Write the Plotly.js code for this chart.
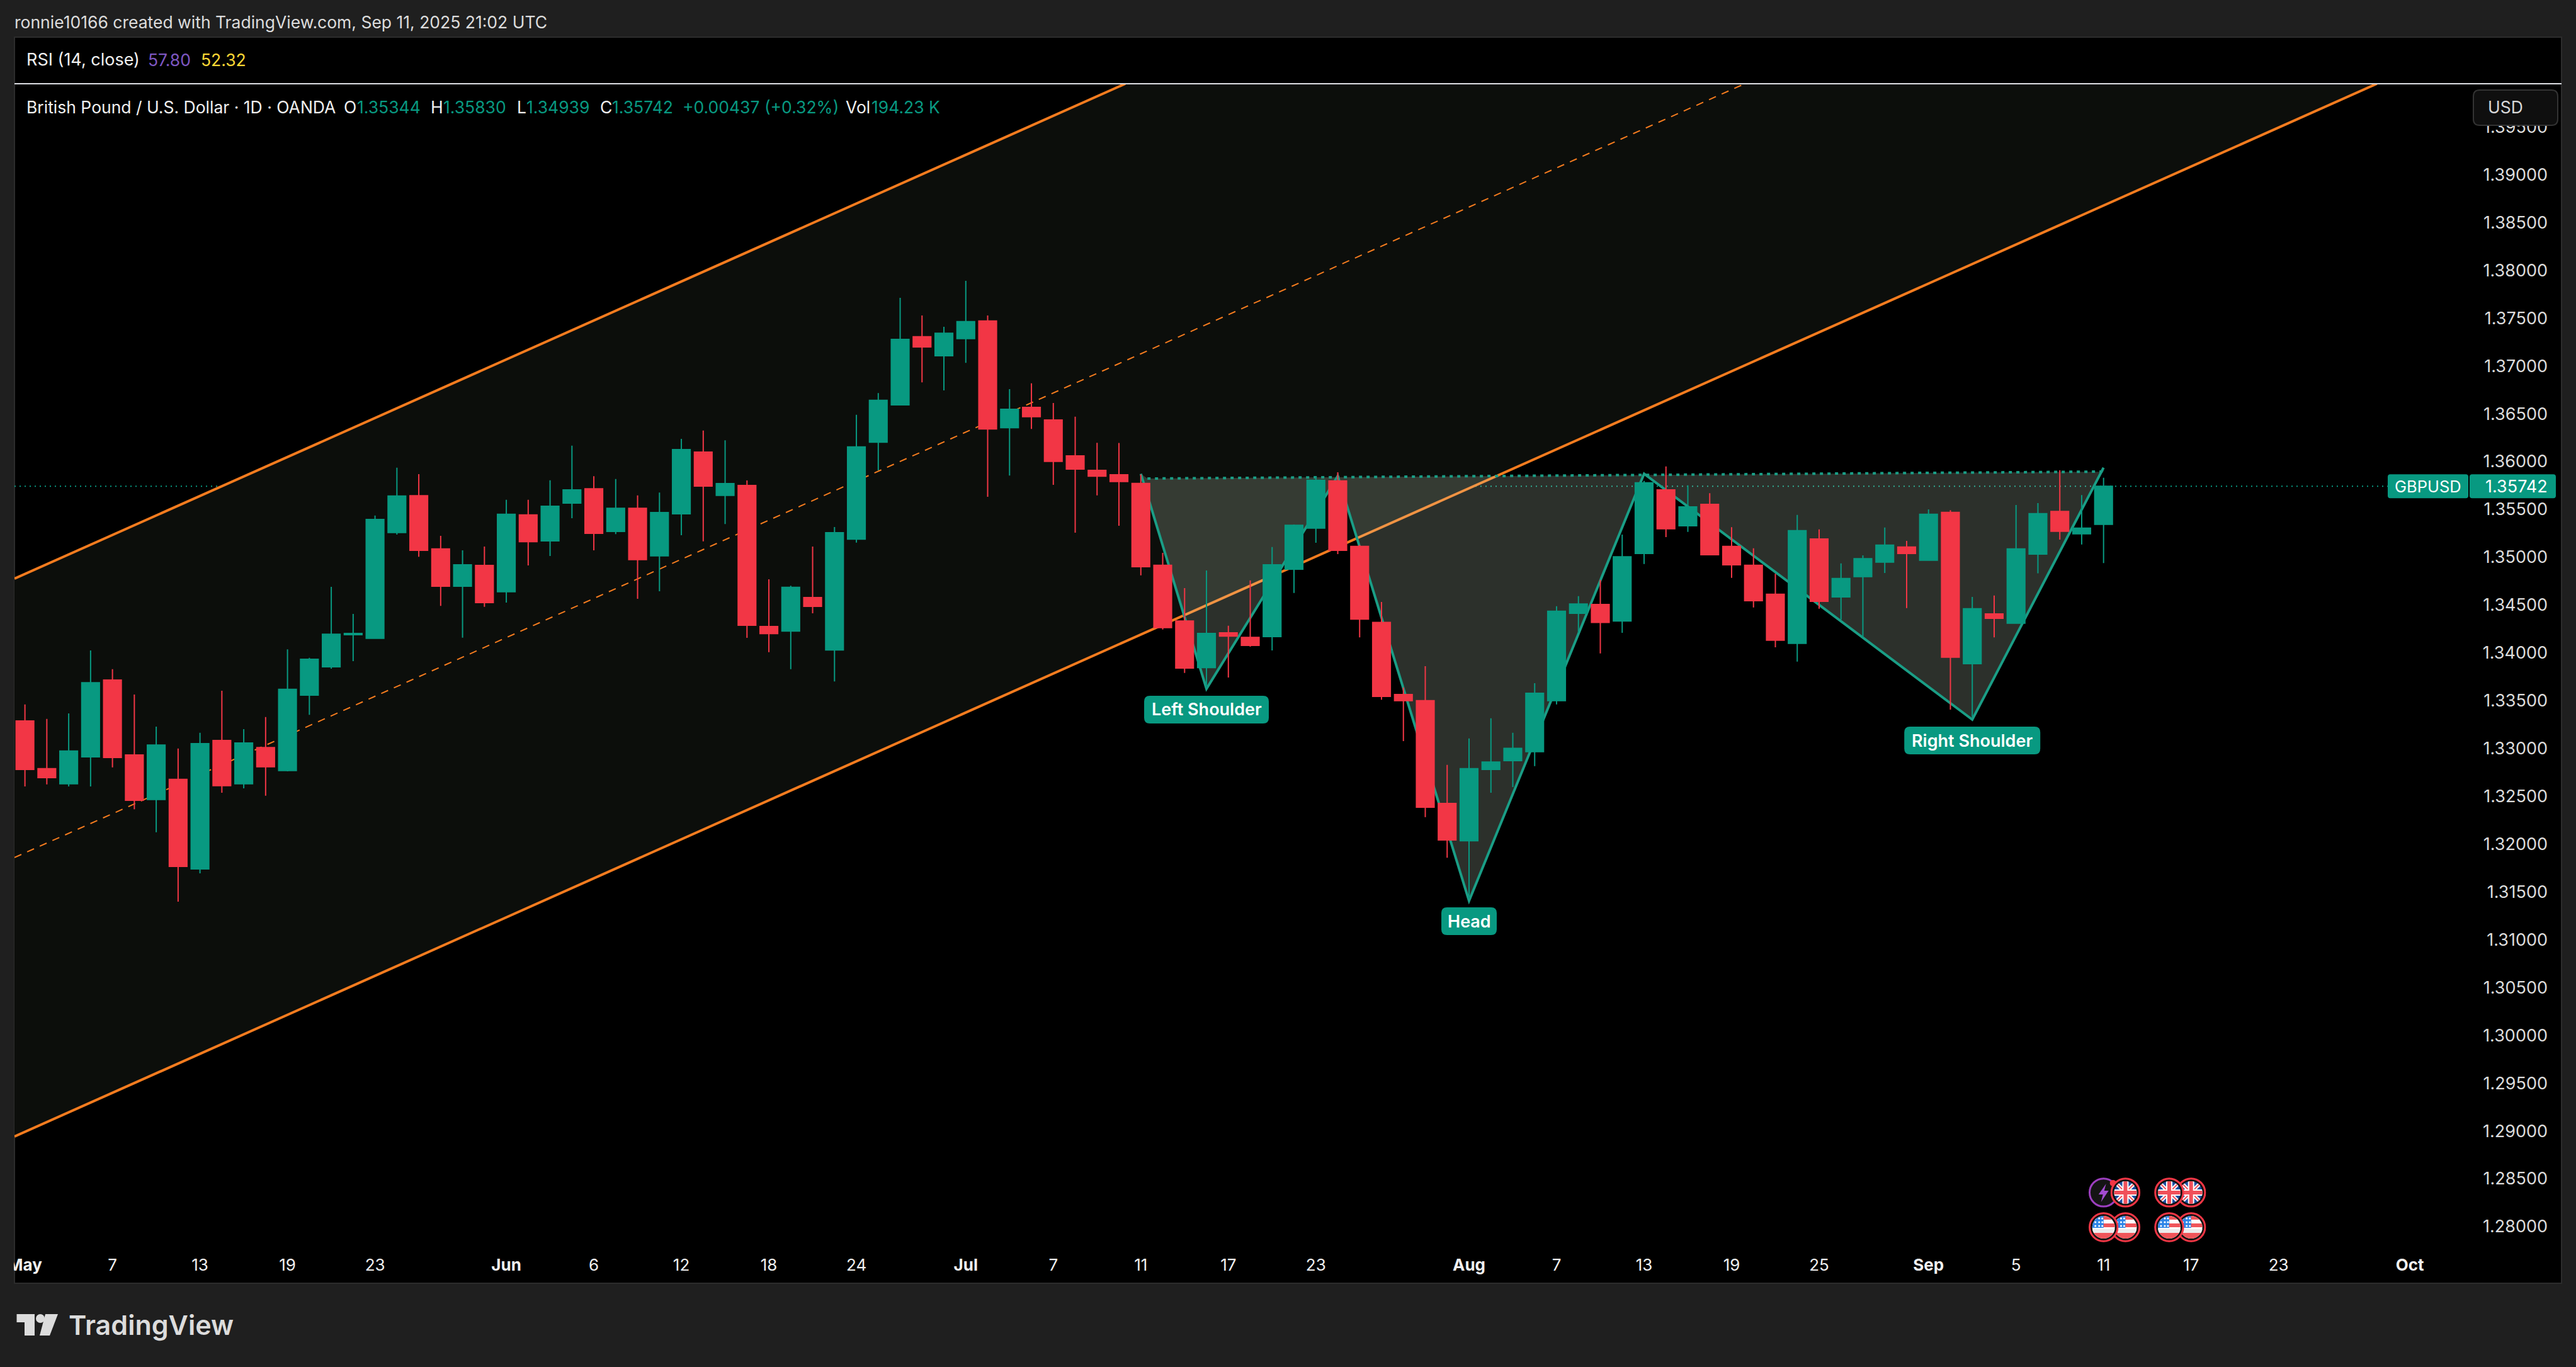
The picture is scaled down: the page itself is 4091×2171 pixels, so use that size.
<!DOCTYPE html>
<html>
<head>
<meta charset="utf-8">
<script src="https://cdn.plot.ly/plotly-3.0.1.min.js"></script>
<style>html,body{margin:0;padding:0;background:#1f1f1f}#chart{width:4091px;height:2171px}</style>
</head>
<body>
<div id="chart"></div>
<script>
// ---------- OHLC, one value per trading day from 1 May to 11 Sep 2025 ----------
const opens = [
1.33288,1.32788,1.32630,1.32912,1.33715,1.32932,1.32465,1.32677,1.31740,1.33083,
1.32630,1.33009,1.32768,1.33557,1.33853,1.34189,1.34152,1.35257,1.35643,1.35086,
1.34696,1.34914,1.34639,1.35442,1.35170,1.35565,1.35716,1.35269,1.35511,1.35014,
1.35454,1.36099,1.35646,1.35750,1.34275,1.34228,1.34577,1.34030,1.35189,1.36203,
1.36593,1.37305,1.37107,1.37285,1.37470,1.36354,1.36566,1.36435,1.36059,1.35908,
1.35862,1.35771,1.34915,1.34333,1.33846,1.34209,1.34162,1.34169,1.34874,1.35304,
1.35798,1.35113,1.34317,1.33564,1.33500,1.32425,1.32035,1.32781,1.32872,1.32966,
1.33500,1.34414,1.34505,1.34333,1.35039,1.35704,1.35328,1.35553,1.35113,1.34915,
1.34612,1.34098,1.35190,1.34585,1.34797,1.34948,1.35106,1.34968,1.35469,1.33887,
1.34407,1.34310,1.35032,1.35479,1.35244,1.35344];
const highs = [
1.33460,1.33308,1.33366,1.34024,1.33829,1.33564,1.33228,1.32999,1.33164,1.33604,
1.33201,1.33329,1.34037,1.33947,1.34689,1.34407,1.35435,1.35936,1.35868,1.35223,
1.35072,1.35112,1.35600,1.35600,1.35805,1.36166,1.35847,1.35817,1.35646,1.35676,
1.36237,1.36324,1.36223,1.35803,1.34769,1.34701,1.35111,1.35316,1.36489,1.36717,
1.37712,1.37527,1.37409,1.37890,1.37527,1.36758,1.36818,1.36613,1.36469,1.36196,
1.36194,1.35865,1.35046,1.34676,1.34861,1.34283,1.34757,1.35106,1.35341,1.35842,
1.35889,1.35130,1.34532,1.33638,1.33860,1.32828,1.33104,1.33315,1.33164,1.33682,
1.34488,1.34592,1.34763,1.35237,1.35798,1.35949,1.35751,1.35670,1.35314,1.35093,
1.34827,1.35442,1.35291,1.34935,1.35019,1.35311,1.35170,1.35499,1.35492,1.34585,
1.34599,1.35546,1.35566,1.35909,1.35650,1.35830];
const lows = [
1.32603,1.32623,1.32603,1.32603,1.32801,1.32364,1.32123,1.31397,1.31693,1.32536,
1.32583,1.32506,1.32761,1.33352,1.33833,1.33913,1.34145,1.35237,1.35005,1.34491,
1.34158,1.34481,1.34525,1.34914,1.35012,1.35407,1.35071,1.35242,1.34564,1.34644,
1.35229,1.35165,1.35347,1.34157,1.34006,1.33828,1.34413,1.33700,1.35152,1.35908,
1.36586,1.36828,1.36744,1.37033,1.35632,1.35854,1.36341,1.35756,1.35256,1.35646,
1.35328,1.34810,1.34243,1.33789,1.33638,1.33742,1.34065,1.34024,1.34626,1.35150,
1.35032,1.34162,1.33510,1.33077,1.32281,1.31857,1.31431,1.32536,1.32596,1.32815,
1.33460,1.34209,1.33994,1.34209,1.34928,1.35210,1.35264,1.35019,1.34783,1.34474,
1.34058,1.33907,1.34461,1.34347,1.34159,1.34834,1.34468,1.34968,1.33406,1.33329,
1.34162,1.34310,1.34831,1.35183,1.35133,1.34939];
const closes = [
1.32781,1.32694,1.32972,1.33688,1.32905,1.32458,1.33036,1.31766,1.33050,1.32610,
1.33056,1.32808,1.33618,1.33933,1.34195,1.34202,1.35395,1.35640,1.35072,1.34696,
1.34921,1.34525,1.35448,1.35163,1.35532,1.35703,1.35249,1.35511,1.34974,1.35467,
1.36126,1.35743,1.35770,1.34288,1.34201,1.34685,1.34486,1.35256,1.36153,1.36640,
1.37278,1.37198,1.37342,1.37463,1.36341,1.36546,1.36469,1.36002,1.35921,1.35847,
1.35791,1.34901,1.34263,1.33840,1.34202,1.34175,1.34078,1.34921,1.35334,1.35805,
1.35072,1.34353,1.33544,1.33500,1.32385,1.32042,1.32788,1.32858,1.33000,1.33577,
1.34434,1.34511,1.34317,1.35005,1.35778,1.35298,1.35526,1.35025,1.34921,1.34545,
1.34132,1.35277,1.34538,1.34777,1.34985,1.35126,1.35039,1.35449,1.33954,1.34461,
1.34360,1.35086,1.35455,1.35271,1.35304,1.35742];

// ---------- axes ----------
const timeTickBars   = [0,4,8,12,16,22,26,30,34,38,43,47,51,55,59,66,70,74,78,82,87,91,95,99,103,109];
const timeTickLabels = ['<b>May</b>','7','13','19','23','<b>Jun</b>','6','12','18','24','<b>Jul</b>','7','11','17','23','<b>Aug</b>','7','13','19','25','<b>Sep</b>','5','11','17','23','<b>Oct</b>'];
const priceTicks = [1.28,1.285,1.29,1.295,1.30,1.305,1.31,1.315,1.32,1.325,1.33,1.335,1.34,1.345,1.35,1.355,1.36,1.365,1.37,1.375,1.38,1.385,1.39,1.395];
const barRange   = [-0.478, 115.93];
const priceRange = [1.27407, 1.39951];

// ---------- drawings (bar index, price) ----------
const channelUpperBars = [-0.478, 50.29],  channelUpperPrices = [1.34776, 1.39951];
const channelMidBars   = [-0.478, 78.6],   channelMidPrices   = [1.31859, 1.39951];
const channelLowerBars = [-0.478, 107.49], channelLowerPrices = [1.28942, 1.39951];
const patternBars   = [51, 54, 60, 66, 74, 89, 95];
const patternPrices = [1.35872, 1.33624, 1.35848, 1.31407, 1.35872, 1.33302, 1.35936];
const necklineBars   = [51.3, 95];
const necklinePrices = [1.35822, 1.35895];
const patternLabels      = ['Left Shoulder', 'Head', 'Right Shoulder'];
const patternLabelBars   = [54, 66, 89];
const patternLabelPrices = [1.33406, 1.31193, 1.33083];
const patternLabelWidths = [198, 88, 216];
const lastPrice = 1.35742;
const eventBars = [95, 96, 98, 99];
const eventRowPrices = [1.28356, 1.27993];

// ---------- palette ----------
const UP = '#089981', DOWN = '#f23645', ORANGE = '#f57c1f', TEAL = '#1a9e86', BG = '#1f1f1f';
const FONT = 'Inter, "Noto Sans", sans-serif';

// ---------- helpers ----------
const PL = 23, PR = 4068, PT = 133, PB = 2038;
const PX = x => (x - PL) / (PR - PL);
const PY = y => (PB - y) / (PB - PT);
const bars = opens.map((_, i) => i);

function roundRect(w, h, r) {
  const a = w / 2, b = h / 2;
  return `M ${-a + r} ${-b} L ${a - r} ${-b} Q ${a} ${-b} ${a} ${-b + r} L ${a} ${b - r} Q ${a} ${b} ${a - r} ${b} L ${-a + r} ${b} Q ${-a} ${b} ${-a} ${b - r} L ${-a} ${-b + r} Q ${-a} ${-b} ${-a + r} ${-b} Z`;
}
function polyPath(xs, ys, close) {
  return xs.map((x, i) => (i ? 'L ' : 'M ') + x + ' ' + ys[i]).join(' ') + (close ? ' Z' : '');
}
function pxText(x, y, text, color, size, weight, anchor) {
  return {xref: 'paper', yref: 'paper', x: PX(x), y: PY(y), text, showarrow: false, xanchor: anchor || 'left', yanchor: 'middle',
    borderpad: 0, font: {family: FONT, size: size || 26.5, color: color || '#f0f0f0', weight: weight || 400}};
}

const shapes = [];
// panel behind everything
shapes.push({type: 'rect', layer: 'below', xref: 'paper', yref: 'paper', x0: PX(23), x1: PX(4068), y0: PY(2038), y1: PY(59), fillcolor: '#000000', line: {color: '#2c2c2c', width: 2}});
// channel
shapes.push({type: 'path', layer: 'below', xref: 'x', yref: 'y', line: {width: 0}, fillcolor: '#0c0e0b',
  path: polyPath([...channelUpperBars, channelLowerBars[1], channelLowerBars[0]], [...channelUpperPrices, channelLowerPrices[1], channelLowerPrices[0]], true)});
[[channelUpperBars, channelUpperPrices, 4, 'solid'], [channelLowerBars, channelLowerPrices, 4, 'solid'], [channelMidBars, channelMidPrices, 2, '12px,10px']].forEach(c =>
  shapes.push({type: 'line', layer: 'below', xref: 'x', yref: 'y', x0: c[0][0], x1: c[0][1], y0: c[1][0], y1: c[1][1], line: {color: ORANGE, width: c[2], dash: c[3]}}));
// last price line
shapes.push({type: 'line', layer: 'below', xref: 'paper', yref: 'y', x0: 0, x1: PX(3792), y0: lastPrice, y1: lastPrice, line: {color: UP, width: 2, dash: '2px,6px'}});
// inverse head and shoulders
shapes.push({type: 'path', layer: 'below', xref: 'x', yref: 'y', line: {width: 0}, fillcolor: 'rgba(220,240,215,0.2)',
  path: polyPath([necklineBars[0], ...patternBars, necklineBars[1]], [necklinePrices[0], ...patternPrices, necklinePrices[1]], true)});
shapes.push({type: 'path', layer: 'below', xref: 'x', yref: 'y', fillcolor: 'rgba(0,0,0,0)', line: {color: TEAL, width: 4},
  path: polyPath(patternBars, patternPrices, false)});
shapes.push({type: 'line', layer: 'below', xref: 'x', yref: 'y', x0: necklineBars[0], x1: necklineBars[1], y0: necklinePrices[0], y1: necklinePrices[1], line: {color: TEAL, width: 4, dash: '5px,7px'}});
// pattern labels
patternLabels.forEach((t, i) => shapes.push({type: 'path', layer: 'above', xref: 'x', yref: 'y', xsizemode: 'pixel', ysizemode: 'pixel',
  xanchor: patternLabelBars[i], yanchor: patternLabelPrices[i], path: roundRect(patternLabelWidths[i], 44, 9), fillcolor: UP, line: {width: 0}}));
// left cut-off for the May label
shapes.push({type: 'rect', layer: 'above', xref: 'paper', yref: 'paper', x0: PX(0), x1: PX(22), y0: PY(2171), y1: PY(0), fillcolor: BG, line: {width: 0}});
// pane separator
shapes.push({type: 'line', layer: 'above', xref: 'paper', yref: 'paper', x0: 0, x1: 1, y0: PY(133), y1: PY(133), line: {color: '#dfe0e6', width: 2}});
// USD button
shapes.push({type: 'path', layer: 'above', xref: 'paper', yref: 'paper', xsizemode: 'pixel', ysizemode: 'pixel', xanchor: PX(3995), yanchor: PY(171),
  path: roundRect(134, 56, 10), fillcolor: '#0f0f0f', line: {color: '#333333', width: 2}});
// price tags
shapes.push({type: 'path', layer: 'above', xref: 'paper', yref: 'y', xsizemode: 'pixel', ysizemode: 'pixel', xanchor: PX(3856), yanchor: lastPrice,
  path: roundRect(128, 38, 4), fillcolor: UP, line: {width: 0}});
shapes.push({type: 'path', layer: 'above', xref: 'paper', yref: 'y', xsizemode: 'pixel', ysizemode: 'pixel', xanchor: PX(3990.5), yanchor: lastPrice,
  path: roundRect(137, 38, 4), fillcolor: UP, line: {width: 0}});
// TradingView logo
shapes.push({type: 'path', layer: 'above', xref: 'paper', yref: 'paper', line: {width: 0}, fillcolor: '#dcdcdc',
  path: polyPath([26.5, 55, 55, 39, 39, 26.5].map(PX), [2087, 2087, 2121, 2121, 2100, 2100].map(PY), true)});
shapes.push({type: 'path', layer: 'above', xref: 'paper', yref: 'paper', line: {width: 0}, fillcolor: '#dcdcdc',
  path: polyPath([72, 92, 79, 63].map(PX), [2087, 2087, 2121, 2121].map(PY), true)});
shapes.push({type: 'circle', layer: 'above', xref: 'paper', yref: 'paper', x0: PX(57), x1: PX(71), y0: PY(2101), y1: PY(2087), fillcolor: '#dcdcdc', line: {width: 0}});

// ---------- text ----------
const annotations = [
  pxText(22, 35, 'ronnie10166 created with TradingView.com, Sep 11, 2025 21:02 UTC', '#dcdcdc', 26.5),
  pxText(41, 95, 'RSI (14, close)', '#f0f0f0', 27),
  pxText(234, 95, '57.80', '#7e57c2', 26.5),
  pxText(318, 95, '52.32', '#fdd835', 26.5),
  pxText(41, 170, 'British Pound / U.S. Dollar · 1D · OANDA', '#f0f0f0', 26.5),
  pxText(545, 170, 'O', '#f0f0f0'), pxText(566, 170, '1.35344', UP),
  pxText(683, 170, 'H', '#f0f0f0'), pxText(703, 170, '1.35830', UP),
  pxText(820, 170, 'L', '#f0f0f0'), pxText(835, 170, '1.34939', UP),
  pxText(952, 170, 'C', '#f0f0f0'), pxText(971, 170, '1.35742', UP),
  pxText(1083, 170, '+0.00437 (+0.32%)', UP),
  pxText(1342, 170, 'Vol', '#f0f0f0'), pxText(1383, 170, '194.23 K', UP),
  pxText(3950, 170, 'USD', '#d8d8d8', 26.5),
  pxText(108, 2104, 'TradingView', '#dcdcdc', 43, 600)
];
patternLabels.forEach((t, i) => annotations.push({xref: 'x', yref: 'y', x: patternLabelBars[i], y: patternLabelPrices[i], text: t, showarrow: false,
  xanchor: 'center', yanchor: 'middle', font: {family: FONT, size: 27, color: '#ffffff', weight: 600}}));
annotations.push({xref: 'paper', yref: 'y', x: PX(3856), y: lastPrice, text: 'GBPUSD', showarrow: false, xanchor: 'center', yanchor: 'middle', font: {family: FONT, size: 25.5, color: '#ffffff'}});
annotations.push({xref: 'paper', yref: 'y', x: PX(3996), y: lastPrice, text: lastPrice.toFixed(5), showarrow: false, xanchor: 'center', yanchor: 'middle', font: {family: FONT, size: 27, color: '#ffffff'}});

// ---------- economic-event icons ----------
function svgUri(inner) {
  const svg = '<svg xmlns="http://www.w3.org/2000/svg" width="96" height="96" viewBox="0 0 48 48"><defs><clipPath id="c"><circle cx="24" cy="24" r="18"/></clipPath></defs>' + inner + '</svg>';
  return 'data:image/svg+xml;charset=utf-8,' + encodeURIComponent(svg);
}
const ring = '<circle cx="24" cy="24" r="22.2" fill="#111" stroke="#f23645" stroke-width="3"/>';
const ukIcon = svgUri(ring + '<g clip-path="url(#c)"><rect width="48" height="48" fill="#1c4fa3"/>' +
  '<path d="M0 0L48 48M48 0L0 48" stroke="#fff" stroke-width="6"/><path d="M0 0L48 48M48 0L0 48" stroke="#f0505a" stroke-width="2"/>' +
  '<path d="M24 0V48M0 24H48" stroke="#fff" stroke-width="10"/><path d="M24 0V48M0 24H48" stroke="#f0505a" stroke-width="6"/></g>');
const usIcon = svgUri(ring + '<g clip-path="url(#c)"><rect width="48" height="48" fill="#fff"/>' +
  '<rect y="6" width="48" height="6" fill="#f0555a"/><rect y="18" width="48" height="6" fill="#f0555a"/><rect y="27" width="48" height="6" fill="#ececec"/><rect y="33" width="48" height="15" fill="#f0555a"/>' +
  '<rect x="0" y="0" width="24" height="25" fill="#2f86e8"/>' +
  '<g fill="#fff"><circle cx="11" cy="10" r="1.6"/><circle cx="17" cy="10" r="1.6"/><circle cx="22" cy="10" r="1.6"/><circle cx="11" cy="16" r="1.6"/><circle cx="17" cy="16" r="1.6"/><circle cx="22" cy="16" r="1.6"/><circle cx="11" cy="22" r="1.6"/><circle cx="17" cy="22" r="1.6"/><circle cx="22" cy="22" r="1.6"/></g></g>');
const boltIcon = svgUri('<circle cx="24" cy="24" r="22.2" fill="#141414" stroke="#9c3fbf" stroke-width="3"/>' +
  '<path d="M28 10L16 27H23L20 39L32 21H25Z" fill="#a24bd0"/><circle cx="39" cy="9" r="5" fill="#f23645"/>');
const eventImage = (src, bar, price) => ({source: src, xref: 'x', yref: 'y', x: bar, y: price, sizex: 48 / 34.75, sizey: 48 / 15187,
  xanchor: 'center', yanchor: 'middle', sizing: 'contain', layer: 'above'});
const images = [
  eventImage(boltIcon, eventBars[0], eventRowPrices[0]),
  eventImage(ukIcon, eventBars[1], eventRowPrices[0]),
  eventImage(ukIcon, eventBars[3], eventRowPrices[0]),
  eventImage(ukIcon, eventBars[2], eventRowPrices[0]),
  eventImage(usIcon, eventBars[1], eventRowPrices[1]),
  eventImage(usIcon, eventBars[0], eventRowPrices[1]),
  eventImage(usIcon, eventBars[3], eventRowPrices[1]),
  eventImage(usIcon, eventBars[2], eventRowPrices[1])
];

// ---------- chart ----------
const trace = {
  type: 'candlestick', x: bars, open: opens, high: highs, low: lows, close: closes, whiskerwidth: 0, hoverinfo: 'skip',
  increasing: {line: {color: UP, width: 2}, fillcolor: UP},
  decreasing: {line: {color: DOWN, width: 2}, fillcolor: DOWN}
};
const layout = {
  width: 4091, height: 2171, showlegend: false, hovermode: false, dragmode: false,
  paper_bgcolor: BG, plot_bgcolor: 'rgba(0,0,0,0)',
  margin: {l: PL, r: 4091 - PR, t: PT, b: 2171 - PB, pad: 0, autoexpand: false},
  boxgap: 0.1, boxgroupgap: 0.1, boxmode: 'overlay',
  xaxis: {type: 'linear', range: barRange, rangeslider: {visible: false}, tickmode: 'array', tickvals: timeTickBars, ticktext: timeTickLabels,
    ticklabelposition: 'inside', ticklabeloverflow: 'allow', ticklabelstandoff: 12, ticklen: 0, showgrid: false, zeroline: false, showline: false, automargin: false,
    tickangle: 0, tickfont: {family: FONT, size: 26, color: '#f0f0f0'}},
  yaxis: {type: 'linear', side: 'right', range: priceRange, tickmode: 'array', tickvals: priceTicks, ticktext: priceTicks.map(p => p.toFixed(5)),
    ticklabelposition: 'inside', ticklabelstandoff: 19, ticklen: 0, showgrid: false, zeroline: false, showline: false, automargin: false,
    tickfont: {family: FONT, size: 27, color: '#dcdcdc'}},
  shapes, annotations, images
};
Plotly.newPlot('chart', [trace], layout, {displayModeBar: false, staticPlot: true});
</script>
</body>
</html>
